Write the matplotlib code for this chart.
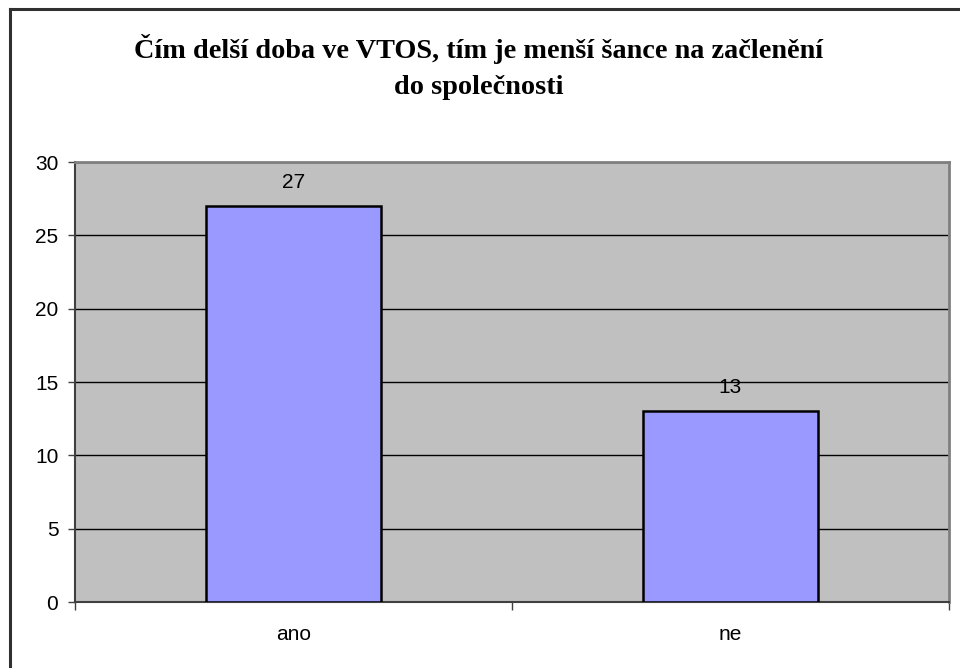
import matplotlib
matplotlib.use("Agg")
import matplotlib.pyplot as plt
from matplotlib.lines import Line2D

categories = ["ano", "ne"]
values = [27, 13]
yticks = [0, 5, 10, 15, 20, 25, 30]
title = "Čím delší doba ve VTOS, tím je menší šance na začlenění\ndo společnosti"

W, H = 960, 668
fig = plt.figure(figsize=(W / 100, H / 100), dpi=100)
ax = fig.add_axes([75 / W, (H - 602) / H, (949 - 75) / W, (602 - 162) / H])

ax.set_facecolor("#c0c0c0")
ax.set_xlim(-0.5, len(categories) - 0.5)
ax.set_ylim(0, 30)
ax.set_yticks(yticks)
ax.yaxis.grid(True, color="black", lw=1)
ax.set_axisbelow(True)

x = range(len(categories))
ax.bar(x, values, width=0.4, color="#9999ff", edgecolor="black", lw=1.8, zorder=3)
for xi, v in zip(x, values):
    ax.text(xi, v + 0.95, str(v), ha="center", va="bottom", fontsize=15,
            family="Liberation Sans", zorder=4)

# category labels between boundary ticks
ax.set_xticks([-0.5, 0.5, 1.5])
ax.set_xticklabels([])
ax.tick_params(axis="x", length=6, color="#404040", width=1)
for xi, c in zip(x, categories):
    ax.text(xi, -2.2, c, ha="center", va="center", fontsize=15, family="Liberation Sans")

ax.tick_params(axis="y", length=5, color="#404040", width=1, labelsize=15, pad=7)
for lab in ax.get_yticklabels():
    lab.set_family("Liberation Sans")

for s in ["top", "right"]:
    ax.spines[s].set_color("#808080")
    ax.spines[s].set_linewidth(2)
for s in ["left", "bottom"]:
    ax.spines[s].set_color("#404040")
    ax.spines[s].set_linewidth(1.5)

fig.text(479 / W, 1 - 67 / H, title, ha="center", va="center", fontsize=20.3,
         fontweight="bold", family="Liberation Serif", linespacing=1.6)

# outer frame (top and left edges)
fig.add_artist(Line2D([9.5 / W, 9.5 / W], [0, 1 - 8.5 / H], color="#303030", lw=2.2,
                      transform=fig.transFigure))
fig.add_artist(Line2D([9.5 / W, 1], [1 - 8.5 / H, 1 - 8.5 / H], color="#303030", lw=2.2,
                      transform=fig.transFigure))

fig.savefig("out.png", dpi=100)
